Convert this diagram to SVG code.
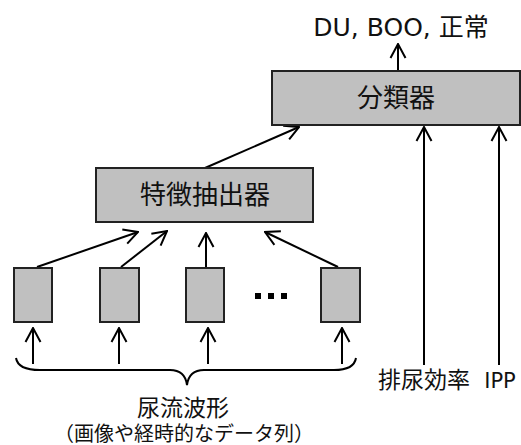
<svg xmlns="http://www.w3.org/2000/svg" width="521" height="445" viewBox="0 0 521 445">
<defs>
<marker id="ah" viewBox="0 0 16 18" refX="15" refY="9" markerWidth="16" markerHeight="18" markerUnits="userSpaceOnUse" orient="auto">
<path d="M1,1.5 L15,9 L1,16.5" fill="none" stroke="#000" stroke-width="2"/>
</marker>
</defs>
<style>
.box{fill:#c0c0c0;stroke:#222;stroke-width:2}
.ln{fill:none;stroke:#000;stroke-width:2;marker-end:url(#ah)}
.t{font-family:"DejaVu Sans","Noto Sans CJK JP",sans-serif;fill:#111}
</style>
<rect width="521" height="445" fill="#fff"/>
<g id="connectors">
<line class="ln" x1="398" y1="71" x2="398" y2="44"/>
<line class="ln" x1="205" y1="168" x2="299" y2="127"/>
<line class="ln" x1="37" y1="267" x2="138" y2="232"/>
<line class="ln" x1="121" y1="267" x2="167" y2="231"/>
<line class="ln" x1="206" y1="267" x2="206" y2="233"/>
<line class="ln" x1="338" y1="267" x2="265" y2="232"/>
<line class="ln" x1="33" y1="364" x2="33" y2="328"/>
<line class="ln" x1="119" y1="364" x2="119" y2="328"/>
<line class="ln" x1="208" y1="364" x2="208" y2="328"/>
<line class="ln" x1="342" y1="364" x2="342" y2="328"/>
<line class="ln" x1="424" y1="365" x2="424" y2="127"/>
<line class="ln" x1="499" y1="365" x2="499" y2="127"/>
<path d="M16,358 Q18,370 40,370 L170,370 Q185,370 187,385 Q189,370 204,370 L334,370 Q354,370 356,358" fill="none" stroke="#000" stroke-width="2"/>
</g>
<g id="output"><text class="t" x="401" y="36" font-size="25" text-anchor="middle">DU, BOO, 正常</text></g>
<g id="classifier"><rect class="box" x="272" y="71" width="248" height="54"/><text class="t" x="396" y="107" font-size="26" text-anchor="middle">分類器</text></g>
<g id="extractor"><rect class="box" x="96" y="168" width="217" height="54"/><text class="t" x="205" y="204" font-size="26" text-anchor="middle">特徴抽出器</text></g>
<g id="in1"><rect class="box" x="14" y="268" width="38" height="54"/></g>
<g id="in2"><rect class="box" x="100" y="268" width="39" height="54"/></g>
<g id="in3"><rect class="box" x="186" y="268" width="38" height="54"/></g>
<g id="dots"><rect x="255" y="293" width="6" height="6"/><rect x="268" y="293" width="6" height="6"/><rect x="281" y="293" width="6" height="6"/></g>
<g id="in4"><rect class="box" x="321" y="268" width="39" height="54"/></g>
<g id="label-wave"><text class="t" x="183" y="416" font-size="23" text-anchor="middle">尿流波形</text><text class="t" x="184" y="441" font-size="20" text-anchor="middle">（画像や経時的なデータ列）</text></g>
<g id="label-eff"><text class="t" x="424" y="388" font-size="23" text-anchor="middle">排尿効率</text></g>
<g id="label-ipp"><text class="t" x="500" y="388" font-size="21" text-anchor="middle">IPP</text></g>
</svg>
